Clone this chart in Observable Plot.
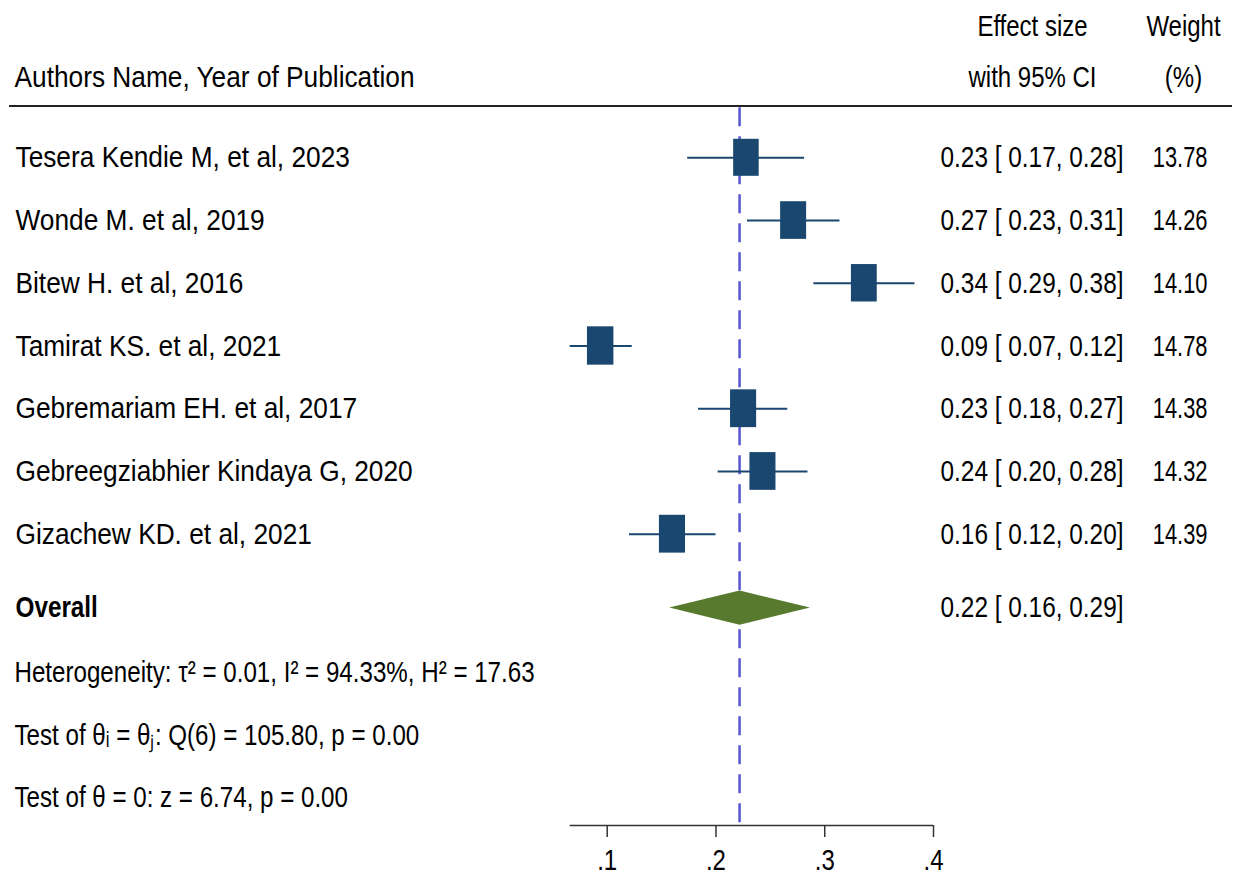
<!DOCTYPE html>
<html>
<head>
<meta charset="utf-8">
<script src="https://cdn.jsdelivr.net/npm/d3@7"></script>
<script src="https://cdn.jsdelivr.net/npm/@observablehq/plot@0.6"></script>
<style>
  html, body { margin: 0; padding: 0; background: #fff; }
  #chart svg { display: block; }
</style>
</head>
<body>
<div id="chart"></div>
<script>
// ---------- data ----------
const studyNames = [
  "Tesera Kendie M, et al, 2023",
  "Wonde M. et al, 2019",
  "Bitew H. et al, 2016",
  "Tamirat KS. et al, 2021",
  "Gebremariam EH. et al, 2017",
  "Gebreegziabhier Kindaya G, 2020",
  "Gizachew KD. et al, 2021"
];
const effectSizes = [0.228, 0.2714, 0.3364, 0.094, 0.2254, 0.2432, 0.160];
const ciLower     = [0.174, 0.229, 0.290, 0.066, 0.184, 0.202, 0.1205];
const ciUpper     = [0.2815, 0.314, 0.383, 0.123, 0.266, 0.2846, 0.200];
const weights     = [13.78, 14.26, 14.10, 14.78, 14.38, 14.32, 14.39];

const overallLabel = "Overall";
const overallEffect = 0.2217;
const overallLower = 0.157;
const overallUpper = 0.2864;

const statLines = [
  "Heterogeneity: \u03c4\u00b2 = 0.01, I\u00b2 = 94.33%, H\u00b2 = 17.63",
  "Test of \u03b8\u1d62 = \u03b8\u2c7c: Q(6) = 105.80, p = 0.00",
  "Test of \u03b8 = 0: z = 6.74, p = 0.00"
];

const xTicks = [0.1, 0.2, 0.3, 0.4];
const headerLeft = "Authors Name, Year of Publication";
const headerEffect = ["Effect size", "with 95% CI"];
const headerWeight = ["Weight", "(%)"];

// ---------- layout (row units) ----------
const nStudy = studyNames.length;
const overallRow = nStudy + 0.17;
const statRows = [nStudy + 1.2, nStudy + 2.2, nStudy + 3.2];
const headerRows = [-2.09, -1.28];
const headerLineRow = -0.826;
const axisRow = 10.644;
const kx = 0.003163;   // box half-width per sqrt(weight), x units
const ky = 0.07947;    // box half-height per sqrt(weight), row units
const diamondHalf = 0.274;

const navy = "#1a476f";
const green = "#587a2e";
const refBlue = "#5656d0";
const f2 = v => v.toFixed(2);

const studies = studyNames.map((name, i) => ({
  name, row: i, es: effectSizes[i], lo: ciLower[i], hi: ciUpper[i], w: weights[i]
}));

const diamond = [
  {x: overallLower, y: overallRow},
  {x: overallEffect, y: overallRow - diamondHalf},
  {x: overallUpper, y: overallRow},
  {x: overallEffect, y: overallRow + diamondHalf}
];

const xMin = d3.min(ciLower);

const chart = Plot.plot({
  width: 1240,
  height: 882,
  marginTop: 0,
  marginRight: 0,
  marginBottom: 57,
  marginLeft: 0,
  style: {fontFamily: "'Liberation Sans', Arial, sans-serif", fontSize: "30px", background: "#fff", color: "#000"},
  x: {domain: [0.1, 0.4], range: [606.7, 933]},
  y: {domain: [0, 6], range: [157.3, 533.7], axis: null},
  marks: [
    // header rule
    Plot.ruleY([headerLineRow], {stroke: "#222", strokeWidth: 2, insetLeft: 9, insetRight: 8}),
    // headers
    Plot.text([headerLeft], {frameAnchor: "left", dx: 14, y: headerRows[1], text: d => d, textAnchor: "start", fontSize: 30, ariaDescription: "names"}),
    Plot.text(headerEffect, {frameAnchor: "right", dx: -208, y: (d, i) => headerRows[i], text: d => d, textAnchor: "middle", fontSize: 30, ariaDescription: "col-headers"}),
    Plot.text(headerWeight, {frameAnchor: "right", dx: -57, y: (d, i) => headerRows[i], text: d => d, textAnchor: "middle", fontSize: 30, ariaDescription: "col-headers"}),
    // reference line at overall effect
    Plot.ruleX([overallEffect], {x: d => d, y1: headerLineRow + 0.03, y2: axisRow, stroke: refBlue, strokeWidth: 2.5, strokeDasharray: "19,10"}),
    // confidence intervals
    Plot.ruleY(studies, {y: "row", x1: "lo", x2: "hi", stroke: navy, strokeWidth: 2}),
    // weight boxes
    Plot.rect(studies, {
      x1: d => d.es - kx * Math.sqrt(d.w), x2: d => d.es + kx * Math.sqrt(d.w),
      y1: d => d.row - ky * Math.sqrt(d.w), y2: d => d.row + ky * Math.sqrt(d.w),
      fill: navy
    }),
    // overall diamond
    Plot.line(diamond, {x: "x", y: "y", curve: "linear-closed", fill: green, stroke: "none"}),
    // study labels
    Plot.text(studies, {frameAnchor: "left", dx: 15, y: "row", text: "name", textAnchor: "start", fontSize: 30, ariaDescription: "names"}),
    Plot.text([overallLabel], {frameAnchor: "left", dx: 15, y: overallRow, text: d => d, textAnchor: "start", fontSize: 30, fontWeight: "bold", ariaDescription: "overall-label"}),
    Plot.text(statLines, {frameAnchor: "left", dx: 14, y: (d, i) => statRows[i], text: d => d, textAnchor: "start", fontSize: 30, ariaDescription: "stats"}),
    // effect size column
    Plot.text(studies, {frameAnchor: "right", dx: -117, y: "row", text: d => `${f2(d.es)} [ ${f2(d.lo)}, ${f2(d.hi)}]`, textAnchor: "end", fontSize: 30, ariaDescription: "effects"}),
    Plot.text([0], {frameAnchor: "right", dx: -117, y: overallRow, text: () => `${f2(overallEffect)} [ ${f2(overallLower)}, ${f2(overallUpper)}]`, textAnchor: "end", fontSize: 30, ariaDescription: "effects"}),
    // weight column
    Plot.text(studies, {frameAnchor: "right", dx: -33, y: "row", text: d => f2(d.w), textAnchor: "end", fontSize: 30, ariaDescription: "weights"}),
    // x axis
    Plot.ruleY([axisRow], {x1: xMin, x2: xTicks[xTicks.length - 1], stroke: "#333", strokeWidth: 1.5}),
    Plot.axisX({ticks: xTicks, tickFormat: d => String(d).replace(/^0/, ""), tickSize: 12, tickPadding: 11, fontSize: 30, stroke: "#333", strokeWidth: 1.5, label: null, ariaDescription: "axis"})
  ]
});

// narrow the text horizontally to match the condensed type of the original
function squeeze(desc, s) {
  const groups = chart.querySelectorAll(`[aria-description="${desc}"]`);
  groups.forEach(g => {
    const texts = g.tagName.toLowerCase() === "text" ? [g] : Array.from(g.querySelectorAll("text"));
    texts.forEach(t => {
      let tr = t.getAttribute("transform");
      if (!tr) {
        const x = +(t.getAttribute("x") || 0), y = +(t.getAttribute("y") || 0);
        t.removeAttribute("x"); t.removeAttribute("y");
        tr = `translate(${x},${y})`;
      }
      t.setAttribute("transform", `${tr} scale(${s},1)`);
    });
  });
}
squeeze("names", 0.876);
squeeze("overall-label", 0.81);
squeeze("stats", 0.805);
squeeze("effects", 0.813);
squeeze("weights", 0.73);
squeeze("col-headers", 0.8);
squeeze("axis", 0.8);

document.getElementById("chart").appendChild(chart);
</script>
</body>
</html>
